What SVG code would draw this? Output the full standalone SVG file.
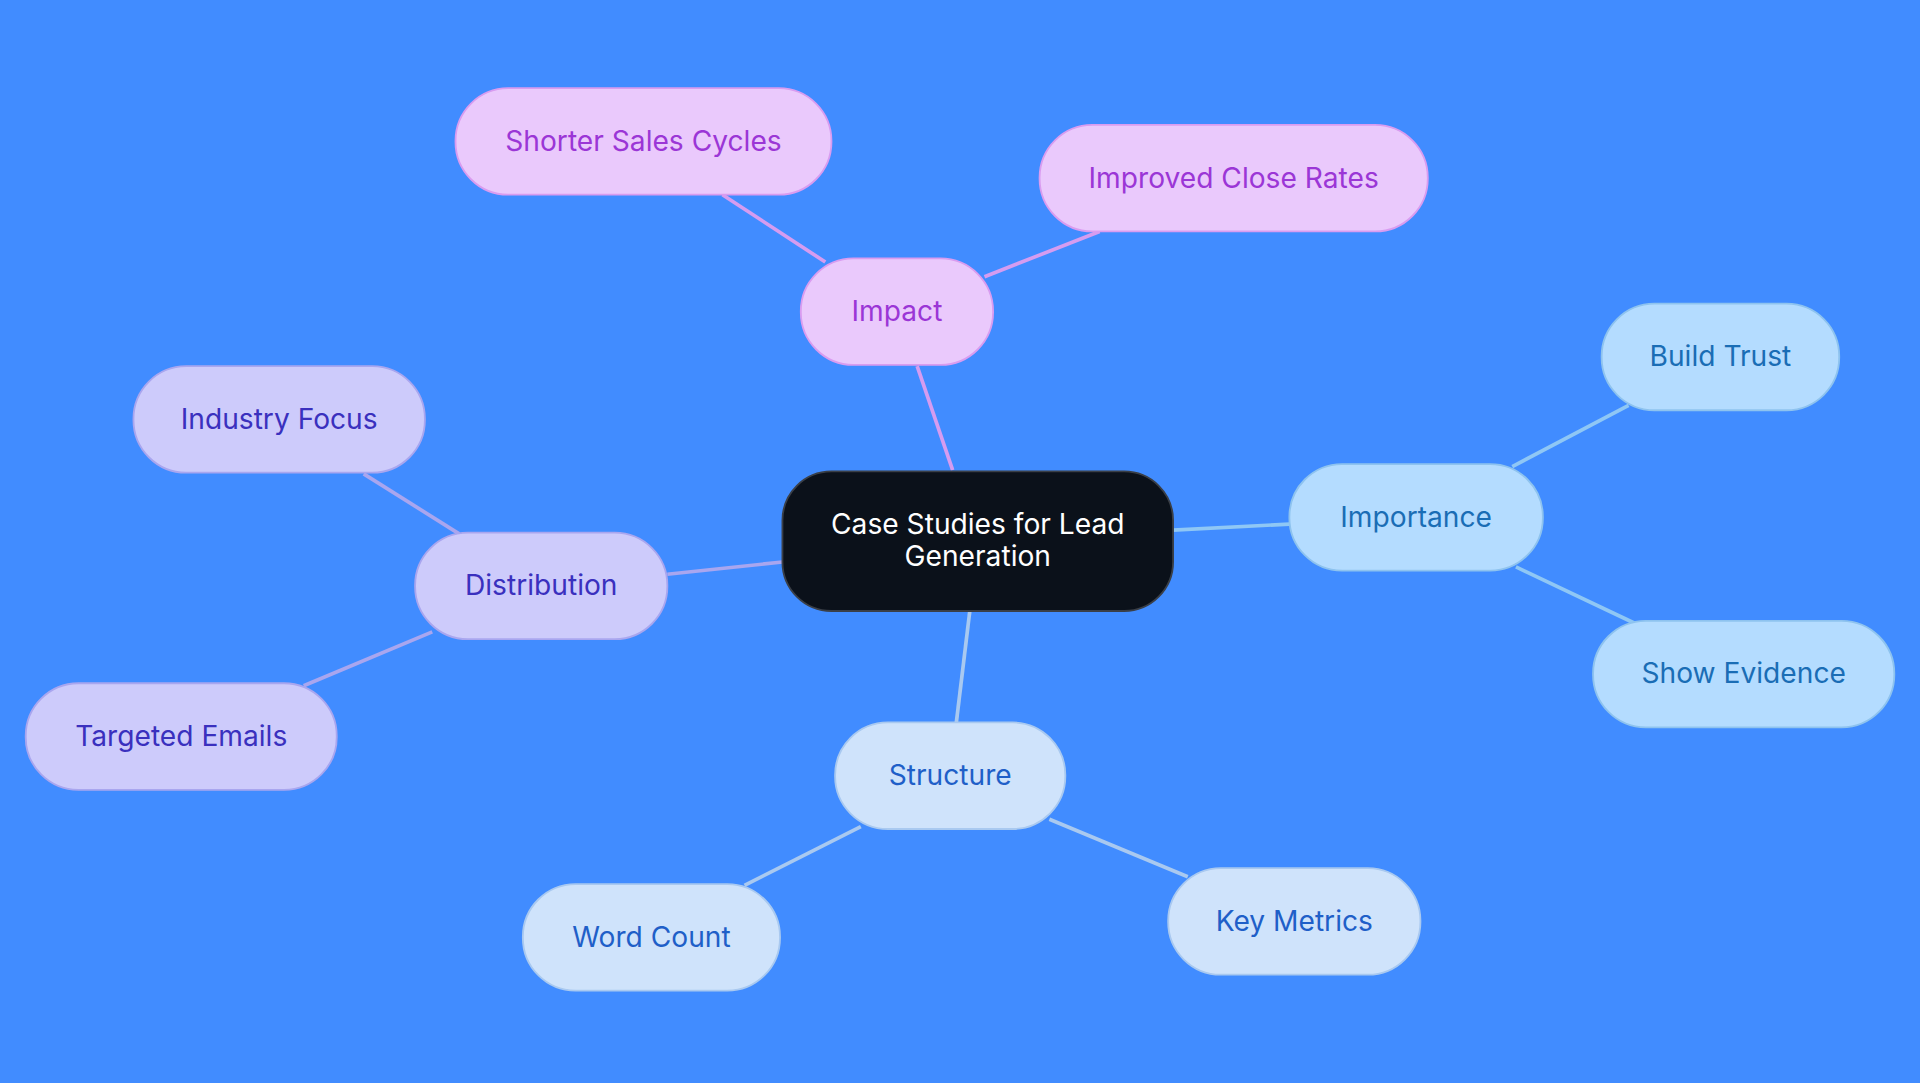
<svg xmlns="http://www.w3.org/2000/svg" width="1920" height="1083" viewBox="0 0 1920 1083">
<style>
text{font-family:Inter,"Noto Sans",sans-serif;font-size:23px;text-anchor:middle;dominant-baseline:central}
.e{fill:none;stroke-width:3}
.im rect{fill:#eac9fc;stroke:#d99cf0;stroke-width:1.5}.im text{fill:#9b36d6}
.po rect{fill:#b4dcff;stroke:#8ec3ef;stroke-width:1.5}.po text{fill:#1a6db5}
.st rect{fill:#cfe3fb;stroke:#a9c9f0;stroke-width:1.5}.st text{fill:#1f5fc8}
.di rect{fill:#cdcbfb;stroke:#a9a6ef;stroke-width:1.5}.di text{fill:#3a30be}
</style>
<rect width="1920" height="1083" fill="#418cff"/>
<g transform="scale(1.2245)">
<g id="connectors">
<g stroke="#d59cf0" class="e"><line x1="778" y1="384" x2="749" y2="299"/><line x1="674" y1="214" x2="590" y2="159"/><line x1="804" y1="226" x2="898" y2="189"/></g>
<g stroke="#8fc7f5" class="e"><line x1="958" y1="433" x2="1053" y2="428"/><line x1="1235" y1="381" x2="1330" y2="331"/><line x1="1238" y1="463" x2="1335" y2="509"/></g>
<g stroke="#a9c9f0" class="e"><line x1="792" y1="499" x2="781" y2="590"/><line x1="703" y1="675" x2="608" y2="723"/><line x1="857" y1="669" x2="970" y2="716"/></g>
<g stroke="#a9a6ef" class="e"><line x1="639" y1="459" x2="545" y2="469"/><line x1="375" y1="436" x2="297" y2="387"/><line x1="353" y1="516" x2="248" y2="560"/></g>
</g>
<g id="center"><rect x="639" y="385" width="319" height="114" rx="40" fill="#0b111a" stroke="#3a3f47" stroke-width="1.5"/><text x="798.5" y="428" fill="#fff">Case Studies for Lead</text><text x="798.5" y="454" fill="#fff">Generation</text></g>
<g id="impact" class="im"><rect x="654" y="211" width="157" height="87" rx="43"/><text x="732.5" y="254">Impact</text></g>
<g id="shorter" class="im"><rect x="372" y="72" width="307" height="87" rx="43"/><text x="525.5" y="115">Shorter Sales Cycles</text></g>
<g id="improved" class="im"><rect x="849" y="102" width="317" height="87" rx="43"/><text x="1007.5" y="145">Improved Close Rates</text></g>
<g id="importance" class="po"><rect x="1053" y="379" width="207" height="87" rx="43"/><text x="1156.5" y="422">Importance</text></g>
<g id="trust" class="po"><rect x="1308" y="248" width="194" height="87" rx="43"/><text x="1405" y="291">Build Trust</text></g>
<g id="evidence" class="po"><rect x="1301" y="507" width="246" height="87" rx="43"/><text x="1424" y="550">Show Evidence</text></g>
<g id="structure" class="st"><rect x="682" y="590" width="188" height="87" rx="43"/><text x="776" y="633">Structure</text></g>
<g id="word" class="st"><rect x="427" y="722" width="210" height="87" rx="43"/><text x="532" y="765">Word Count</text></g>
<g id="metrics" class="st"><rect x="954" y="709" width="206" height="87" rx="43"/><text x="1057" y="752">Key Metrics</text></g>
<g id="distribution" class="di"><rect x="339" y="435" width="206" height="87" rx="43"/><text x="442" y="478">Distribution</text></g>
<g id="industry" class="di"><rect x="109" y="299" width="238" height="87" rx="43"/><text x="228" y="342">Industry Focus</text></g>
<g id="emails" class="di"><rect x="21" y="558" width="254" height="87" rx="43"/><text x="148" y="601">Targeted Emails</text></g>
</g>
</svg>
